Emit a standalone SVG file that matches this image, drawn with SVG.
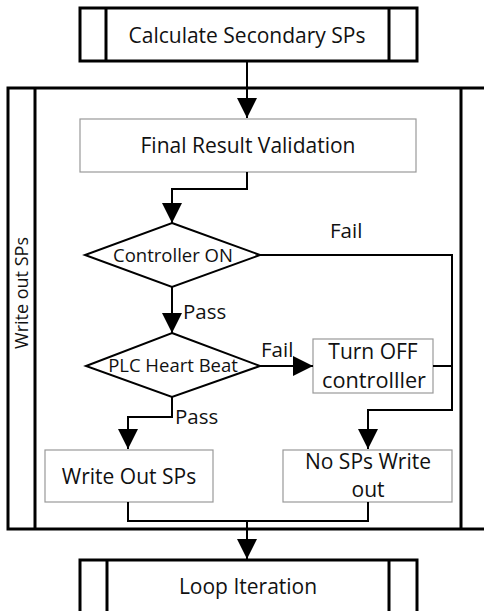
<svg xmlns="http://www.w3.org/2000/svg" width="484" height="611" viewBox="0 0 484 611">
  <style>
    .t { font-family: "Open Sans", "Noto Sans", sans-serif; fill: #111; text-anchor: middle; font-size: 21px; }
    .lbl { font-family: "Open Sans", "Noto Sans", sans-serif; fill: #111; font-size: 20.5px; }
    .proc { fill: #fff; stroke: #999; stroke-width: 1.2; }
    .pre { fill: #fff; stroke: #000; stroke-width: 3; }
    .bar { stroke: #000; stroke-width: 3; }
    .dec { fill: #fff; stroke: #000; stroke-width: 2; }
    .wire { fill: none; stroke: #000; stroke-width: 2; }
  </style>
  <defs>
    <marker id="arrBig" viewBox="0 0 20 20" refX="20" refY="10" markerWidth="20" markerHeight="20" orient="auto" markerUnits="userSpaceOnUse">
      <path d="M0,0 L20,10 L0,20 Z" fill="#000"/>
    </marker>
  </defs>

  <!-- outer loop container -->
  <g id="write-out-container">
    <rect x="8" y="88" width="490" height="441" fill="#fff" stroke="#000" stroke-width="3"/>
    <line class="bar" x1="35" y1="88" x2="35" y2="529"/>
    <line class="bar" x1="461" y1="88" x2="461" y2="529"/>
    <text class="t" style="font-size:18px" transform="translate(28,293) rotate(-90)">Write out SPs</text>
  </g>

  <g id="calc-secondary">
    <rect class="pre" x="80" y="8" width="337" height="53"/>
    <line class="bar" x1="106" y1="8" x2="106" y2="61"/>
    <line class="bar" x1="389" y1="8" x2="389" y2="61"/>
    <text class="t" x="247" y="43">Calculate Secondary SPs</text>
  </g>

  <g id="final-validation">
    <rect class="proc" x="80" y="119" width="336" height="53"/>
    <text class="t" x="248" y="153">Final Result Validation</text>
  </g>

  <g id="controller-on">
    <polygon class="dec" points="172,223 260,255 172,287 85,255"/>
    <text class="t" x="173" y="262" style="font-size:18.5px">Controller ON</text>
  </g>

  <g id="plc-heartbeat">
    <polygon class="dec" points="172,333 260,366 172,397 86,366"/>
    <text class="t" x="173" y="372" style="font-size:18.5px">PLC Heart Beat</text>
  </g>

  <g id="turn-off">
    <rect class="proc" x="313" y="339" width="120" height="54"/>
    <text class="t" x="373" y="359">Turn OFF</text>
    <text class="t" x="374" y="388" textLength="104" lengthAdjust="spacingAndGlyphs">controlller</text>
  </g>

  <g id="write-out-sps">
    <rect class="proc" x="45" y="450" width="168" height="52"/>
    <text class="t" x="129" y="484">Write Out SPs</text>
  </g>

  <g id="no-sps">
    <rect class="proc" x="283" y="450" width="169" height="52"/>
    <text class="t" x="368" y="469">No SPs Write</text>
    <text class="t" x="368" y="497">out</text>
  </g>

  <g id="loop-iteration">
    <rect class="pre" x="80" y="560" width="337" height="70"/>
    <line class="bar" x1="107" y1="560" x2="107" y2="630"/>
    <line class="bar" x1="389" y1="560" x2="389" y2="630"/>
    <text class="t" x="248" y="594">Loop Iteration</text>
  </g>

  <g id="connectors">
    <path class="wire" d="M247,61 V118" marker-end="url(#arrBig)"/>
    <path class="wire" d="M247,172 V189 H172 V223" marker-end="url(#arrBig)"/>
    <path class="wire" d="M172,287 V333" marker-end="url(#arrBig)"/>
    <path class="wire" d="M260,366 H313" marker-end="url(#arrBig)"/>
    <path class="wire" d="M260,255 H452 V410 H368 V449" marker-end="url(#arrBig)"/>
    <path class="wire" d="M433,366 H452"/>
    <path class="wire" d="M172,397 V417 H128 V449" marker-end="url(#arrBig)"/>
    <path class="wire" d="M128,502 V521 H368 V502"/>
    <path class="wire" d="M247,521 V559" marker-end="url(#arrBig)"/>
    <text class="lbl" x="330" y="238">Fail</text>
    <text class="lbl" x="183" y="319">Pass</text>
    <text class="lbl" x="261" y="357">Fail</text>
    <text class="lbl" x="175" y="424">Pass</text>
  </g>
</svg>
